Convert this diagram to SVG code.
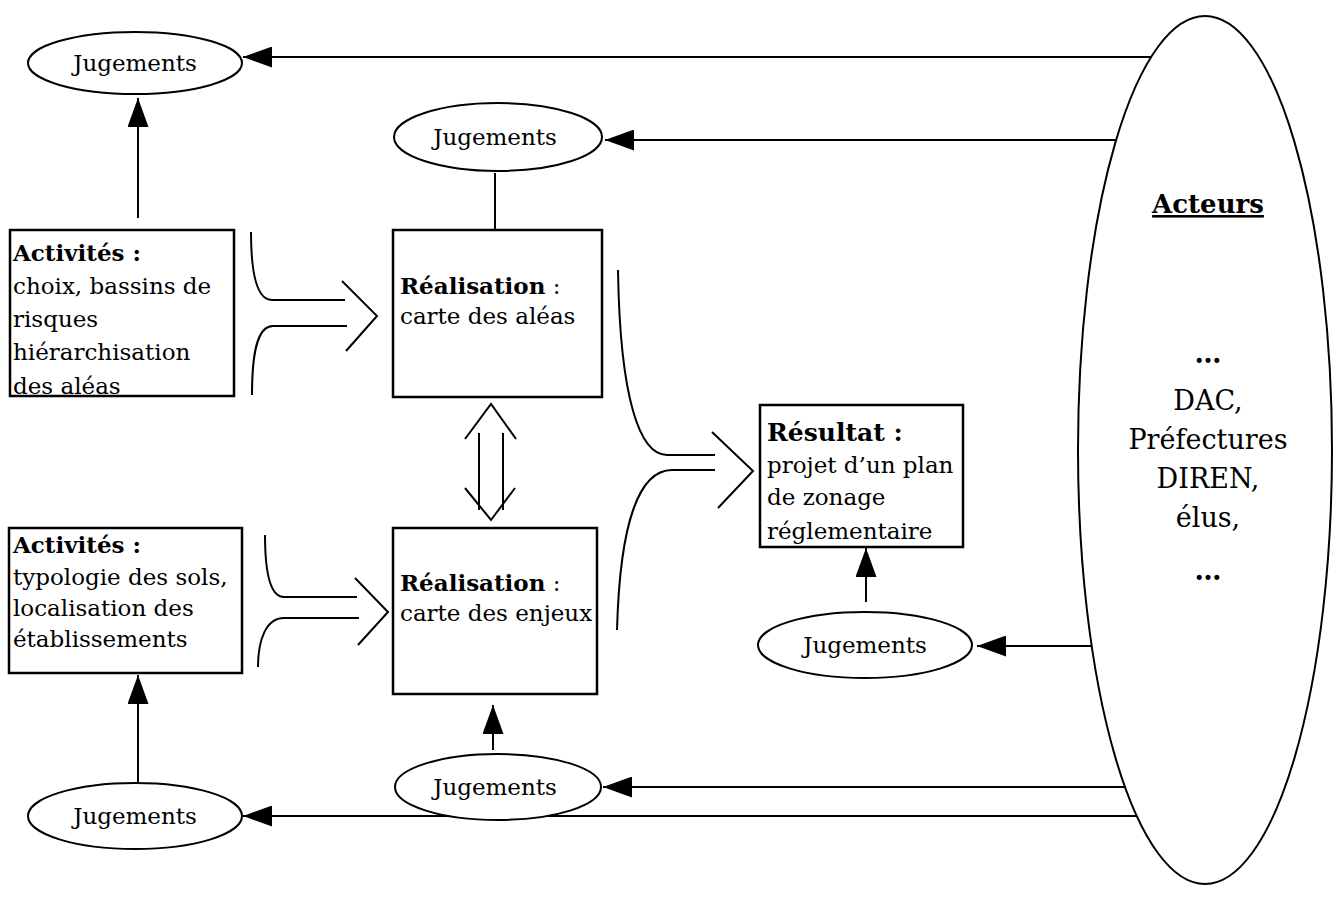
<svg xmlns="http://www.w3.org/2000/svg" width="1333" height="909" viewBox="0 0 1333 909">
  <style>
    .box { fill: #fff; stroke: #000; stroke-width: 2.5; }
    .oval { fill: #fff; stroke: #000; stroke-width: 2; }
    .ln { fill: none; stroke: #000; stroke-width: 2; }
    .t { font-family: "DejaVu Serif", "Liberation Serif", serif; font-size: 23px; fill: #000; }
    .b { font-weight: bold; }
    .mid { text-anchor: middle; }
    .big { font-size: 27px; }
    .ttl { font-size: 26px; }
  </style>
  <defs>
    <marker id="head" viewBox="0 0 29 21" refX="29" refY="10.5" markerWidth="29" markerHeight="21" markerUnits="userSpaceOnUse" orient="auto">
      <path d="M0,0 L29,10.5 L0,21 z" fill="#000"/>
    </marker>
    <clipPath id="clipAct1"><rect x="11" y="231" width="222" height="163"/></clipPath>
    <clipPath id="clipRes"><rect x="761" y="406" width="201" height="140"/></clipPath>
  </defs>

  <!-- connectors -->
  <g id="connectors">
    <!-- from the actors to each judgement -->
    <line class="ln" x1="1170" y1="57" x2="243" y2="57" marker-end="url(#head)"/>
    <line class="ln" x1="1170" y1="140" x2="605" y2="140" marker-end="url(#head)"/>
    <line class="ln" x1="1170" y1="646" x2="977" y2="646" marker-end="url(#head)"/>
    <line class="ln" x1="1170" y1="787" x2="603" y2="787" marker-end="url(#head)"/>
    <line class="ln" x1="1170" y1="816" x2="243" y2="816" marker-end="url(#head)"/>
    <!-- judgements to the steps -->
    <line class="ln" x1="138" y1="218" x2="138" y2="98" marker-end="url(#head)"/>
    <line class="ln" x1="495" y1="173" x2="495" y2="229"/>
    <line class="ln" x1="866" y1="602" x2="866" y2="548" marker-end="url(#head)"/>
    <line class="ln" x1="493" y1="750" x2="493" y2="705" marker-end="url(#head)"/>
    <line class="ln" x1="138" y1="782" x2="138" y2="675" marker-end="url(#head)"/>
    <!-- activities (hazards) to hazard map -->
    <path class="ln" d="M251,232 C251,270 256,300 272,300 L345,300"/>
    <path class="ln" d="M347,326 L273,326 C258,326 252,350 252,395"/>
    <path class="ln" d="M342,281 L377,316 L346,351"/>
    <!-- activities (stakes) to stakes map -->
    <path class="ln" d="M265,535 C265,570 270,597 284,597 L357,597"/>
    <path class="ln" d="M359,618 L284,618 C266,618 258,640 258,667"/>
    <path class="ln" d="M355,578 L388,612 L358,645"/>
    <!-- two maps both ways -->
    <path class="ln" d="M465,439 L491,404 L516,439"/>
    <path class="ln" d="M465,488 L491,520 L515,488"/>
    <line class="ln" x1="479" y1="433" x2="479" y2="510"/>
    <line class="ln" x1="503" y1="433" x2="503" y2="510"/>
    <!-- both maps to the result -->
    <path class="ln" d="M618,270 C620,400 640,455 667,455 L715,455"/>
    <path class="ln" d="M715,470 L672,470 C640,470 620,520 617,630"/>
    <path class="ln" d="M712,432 L753,471 L718,508"/>
  </g>

  <!-- actors -->
  <g id="acteurs">
    <ellipse class="oval" cx="1205" cy="450" rx="127" ry="434"/>
    <text class="t b mid ttl" x="1208" y="213" text-decoration="underline">Acteurs</text>
    <text class="t b mid big" x="1208" y="363">…</text>
    <text class="t mid big" x="1208" y="410">DAC,</text>
    <text class="t mid big" x="1208" y="449">Préfectures</text>
    <text class="t mid big" x="1208" y="488">DIREN,</text>
    <text class="t mid big" x="1208" y="527">élus,</text>
    <text class="t b mid big" x="1208" y="580">…</text>
  </g>

  <!-- judgements -->
  <g id="jugements-1">
    <ellipse class="oval" cx="135" cy="63" rx="107" ry="31"/>
    <text class="t mid" x="135" y="71">Jugements</text>
  </g>
  <g id="jugements-2">
    <ellipse class="oval" cx="498" cy="137" rx="104" ry="34"/>
    <text class="t mid" x="495" y="145">Jugements</text>
  </g>
  <g id="jugements-3">
    <ellipse class="oval" cx="865" cy="645" rx="107" ry="33"/>
    <text class="t mid" x="865" y="653">Jugements</text>
  </g>
  <g id="jugements-4">
    <ellipse class="oval" cx="498" cy="787" rx="103" ry="33"/>
    <text class="t mid" x="495" y="795">Jugements</text>
  </g>
  <g id="jugements-5">
    <ellipse class="oval" cx="135" cy="816" rx="107" ry="33"/>
    <text class="t mid" x="135" y="824">Jugements</text>
  </g>

  <!-- activities: hazards -->
  <g id="activites-aleas">
    <rect class="box" x="10" y="230" width="224" height="166"/>
    <g clip-path="url(#clipAct1)">
      <text class="t b" x="13" y="261">Activités :</text>
      <text class="t" x="13" y="294">choix, bassins de</text>
      <text class="t" x="13" y="327">risques</text>
      <text class="t" x="13" y="360">hiérarchisation</text>
      <text class="t" x="13" y="394">des aléas</text>
    </g>
  </g>

  <!-- activities: stakes -->
  <g id="activites-enjeux">
    <rect class="box" x="9" y="528" width="233" height="145"/>
    <text class="t b" x="13" y="553">Activités :</text>
    <text class="t" x="13" y="585">typologie des sols,</text>
    <text class="t" x="13" y="616">localisation des</text>
    <text class="t" x="13" y="647">établissements</text>
  </g>

  <!-- hazard map -->
  <g id="realisation-aleas">
    <rect class="box" x="393" y="230" width="209" height="167"/>
    <text class="t" x="400" y="294"><tspan class="b">Réalisation</tspan> :</text>
    <text class="t" x="400" y="324">carte des aléas</text>
  </g>

  <!-- stakes map -->
  <g id="realisation-enjeux">
    <rect class="box" x="393" y="528" width="204" height="166"/>
    <text class="t" x="400" y="591"><tspan class="b">Réalisation</tspan> :</text>
    <text class="t" x="400" y="621">carte des enjeux</text>
  </g>

  <!-- result -->
  <g id="resultat">
    <rect class="box" x="760" y="405" width="203" height="142"/>
    <g clip-path="url(#clipRes)">
      <text class="t b" x="767" y="441" style="font-size:25px">Résultat :</text>
      <text class="t" x="767" y="473">projet d’un plan</text>
      <text class="t" x="767" y="505">de zonage</text>
      <text class="t" x="767" y="539">réglementaire</text>
    </g>
  </g>
</svg>
